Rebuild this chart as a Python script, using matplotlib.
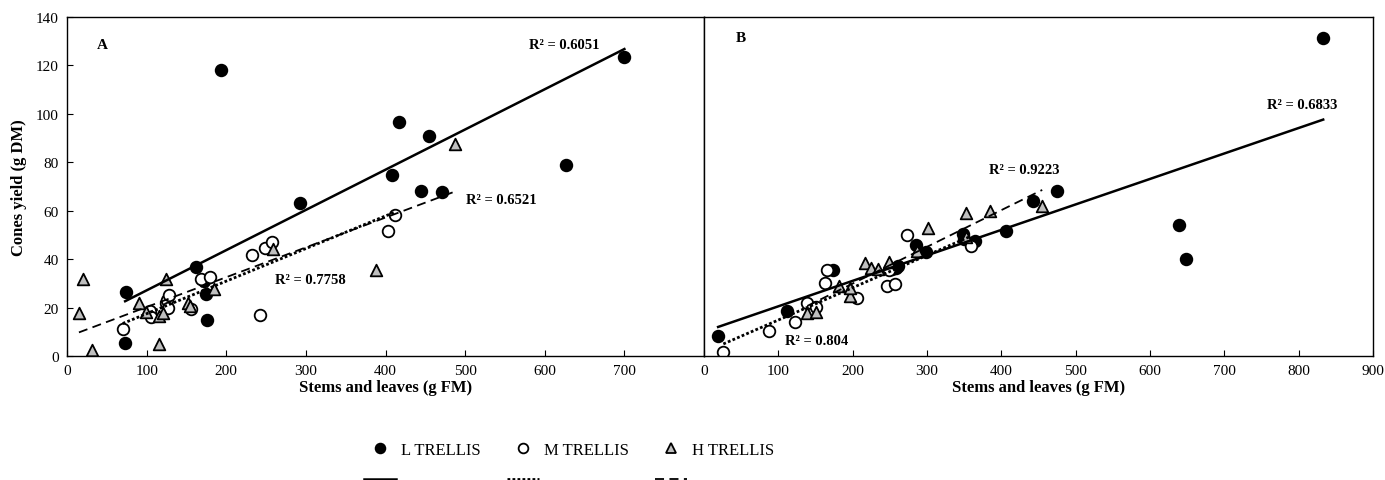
import numpy as np
import matplotlib.pyplot as plt
from matplotlib.lines import Line2D

plt.rcParams['font.family'] = ['Liberation Serif', 'DejaVu Serif']

# ---- panel A data (stems and leaves g FM, cones yield g DM) ----
a_l_x = [73, 74, 162, 172, 174, 176, 194, 292, 408, 417, 444, 455, 471, 627, 700]
a_l_y = [5.2, 26.5, 36.6, 31.0, 25.5, 14.9, 118.3, 63.2, 74.8, 96.8, 68.3, 90.9, 67.6, 78.9, 123.4]

a_m_x = [70, 104, 106, 124, 125, 127, 128, 156, 168, 179, 232, 243, 249, 257, 403, 412]
a_m_y = [11.3, 18.6, 16.1, 22.0, 23.0, 20.0, 25.0, 19.3, 32.0, 32.8, 41.7, 16.8, 44.8, 47.2, 51.8, 58.2]

a_h_x = [15, 20, 31, 91, 99, 115, 116, 120, 124, 152, 154, 185, 259, 388, 487]
a_h_y = [17.9, 32.0, 2.5, 22.0, 18.0, 4.8, 16.5, 17.7, 31.7, 22.0, 20.7, 27.6, 44.0, 35.7, 87.4]

# ---- panel B data ----
b_l_x = [19, 111, 173, 253, 258, 261, 285, 299, 349, 350, 365, 406, 442, 475, 639, 649, 833]
b_l_y = [8.1, 18.4, 35.6, 35.9, 36.5, 37.2, 45.8, 42.8, 50.4, 48.3, 47.4, 51.6, 64.2, 68.3, 54.1, 40.1, 131.2]

b_m_x = [26, 88, 122, 139, 150, 163, 166, 206, 246, 249, 257, 273, 359]
b_m_y = [1.6, 10.2, 13.9, 21.9, 20.3, 30.2, 35.7, 23.8, 28.8, 35.5, 29.7, 50.0, 45.6]

b_h_x = [139, 150, 181, 196, 197, 217, 225, 234, 249, 287, 301, 352, 352, 385, 455]
b_h_y = [17.8, 18.3, 28.8, 24.7, 28.0, 38.3, 36.3, 35.9, 39.0, 43.5, 52.7, 49.0, 59.0, 60.0, 62.1]

series_names = ['L TRELLIS', 'M TRELLIS', 'H TRELLIS']

# linear trend lines (slope, intercept), L / M / H
a_trend = [(0.1661, 10.5), (0.1346, 4.0), (0.1232, 7.9)]
b_trend = [(0.1052, 10.0), (0.1336, 1.5), (0.1516, -0.4)]

# R² labels and where they sit (data coords)
a_r2_text = ['R² = 0.6051', 'R² = 0.7758', 'R² = 0.6521']
a_r2_pos = [(624, 128.5), (306, 31.4), (546, 64.8)]
b_r2_text = ['R² = 0.6833', 'R² = 0.804', 'R² = 0.9223']
b_r2_pos = [(805, 104), (152, 6.6), (431, 77.2)]

marker_styles = [
    dict(marker='o', facecolor='black', edgecolor='black'),
    dict(marker='o', facecolor='white', edgecolor='black'),
    dict(marker='^', facecolor='#bfbfbf', edgecolor='black'),
]
line_styles = ['-', (0, (1, 0.8)), (0, (5, 3))]
line_widths = [1.8, 2.0, 1.3]


def panel(ax, groups, coefs, r2_text, r2_pos, letter, letter_y):
    for (x, y), st in zip(groups, marker_styles):
        ax.scatter(x, y, s=70, linewidths=1.3, zorder=2, **st)
    for (x, y), (k, b), ls, lw in zip(groups, coefs, line_styles, line_widths):
        xs = np.array([min(x), max(x)])
        ax.plot(xs, k * xs + b, color='black', linestyle=ls, linewidth=lw, zorder=3)
    for t, (px, py) in zip(r2_text, r2_pos):
        ax.text(px, py, t, ha='center', va='center', fontsize=10.5, fontweight='bold')
    ax.text(0.047, letter_y, letter, transform=ax.transAxes, va='center',
            fontsize=11, fontweight='bold')
    ax.set_ylim(0, 140)
    ax.tick_params(direction='in', length=4, labelsize=11, pad=6)
    ax.set_xlabel('Stems and leaves (g FM)', fontsize=12, fontweight='bold', labelpad=1)
    for s in ax.spines.values():
        s.set_linewidth(1.0)


fig = plt.figure(figsize=(13.85, 4.81), dpi=100)
axA = fig.add_axes([67 / 1385, 1 - 357 / 481, 637 / 1385, 339 / 481])
axB = fig.add_axes([704 / 1385, 1 - 357 / 481, 669 / 1385, 339 / 481])

panel(axA, [(a_l_x, a_l_y), (a_m_x, a_m_y), (a_h_x, a_h_y)], a_trend,
      a_r2_text, a_r2_pos, 'A', 0.92)
axA.set_xlim(0, 800)
axA.set_xticks(range(0, 701, 100))
axA.set_yticks(range(0, 141, 20))
axA.set_ylabel('Cones yield (g DM)', fontsize=12, fontweight='bold', labelpad=6)

panel(axB, [(b_l_x, b_l_y), (b_m_x, b_m_y), (b_h_x, b_h_y)], b_trend,
      b_r2_text, b_r2_pos, 'B', 0.94)
axB.set_xlim(0, 900)
axB.set_xticks(range(0, 901, 100))
axB.set_yticks([])

# legend: markers on the first row, trend line samples on the second
handles = []
labels = []
for name, st, ls, lw in zip(series_names, marker_styles, line_styles, line_widths):
    handles.append(Line2D([], [], linestyle='none', marker=st['marker'], markersize=7,
                          markerfacecolor=st['facecolor'], markeredgecolor='black',
                          markeredgewidth=1.3))
    labels.append(name)
    handles.append(Line2D([], [], color='black', linestyle=ls, linewidth=lw))
    labels.append(' ')

fig.legend(handles, labels, ncol=3, loc='upper center', bbox_to_anchor=(0.411, 0.11),
           frameon=False, fontsize=12, handlelength=1.9, handletextpad=0.3,
           columnspacing=1.6, labelspacing=0.9)

fig.savefig('out.png', dpi=100)
